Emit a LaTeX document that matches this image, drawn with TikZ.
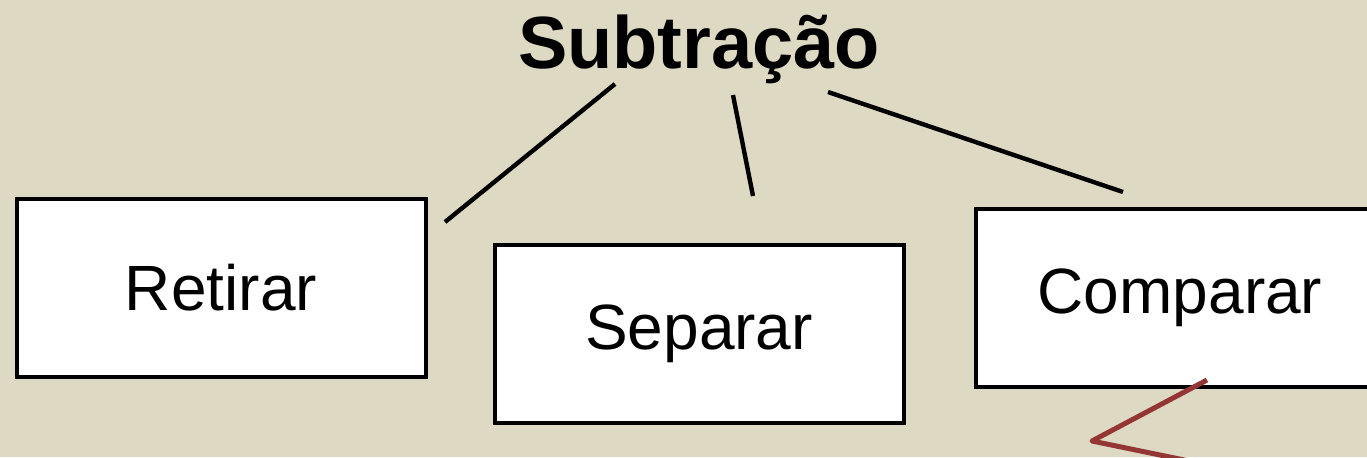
\documentclass[tikz,border=0pt]{standalone}
\usepackage{fontspec}
\setmainfont{Liberation Sans}
\definecolor{fundo}{RGB}{221,217,195}
\definecolor{marca}{RGB}{148,55,52}

\begin{document}
\begin{tikzpicture}[x=0.5pt,y=-0.5pt,
    caixa/.style={draw=black, fill=white, line width=2pt, minimum width=204.5pt,
      minimum height=89pt, font=\fontsize{32}{36}\selectfont},
    ramo/.style={line width=2.2pt}]
   \fill[fundo] (0,0) rectangle (1367,457);
   \useasboundingbox (0,0) rectangle (1367,457);

   \node[font=\bfseries\fontsize{37}{42}\selectfont]   (T)  at (699,49)  {Subtração} ; %
   \node[caixa]                   (R)      at (221,288)  {Retirar} ; %
   \node[caixa]                   (S)      at (699,334)  {Separar} ; %
   \node[caixa]                   (C)      at (1180,298) {Comparar} ; %

   \coordinate (t1) at (615,84) ;
   \coordinate (t2) at (733,95) ;
   \coordinate (t3) at (828,92) ;
   \coordinate (r1) at (445,222) ;
   \coordinate (s1) at (753,196) ;
   \coordinate (c1) at (1123,192) ;

  \draw[ramo] (t1) -- (r1) ;
  \draw[ramo] (t2) -- (s1) ;
  \draw[ramo] (t3) -- (c1) ;

  % traço vermelho
   \coordinate (m1) at (1207,380) ;
   \coordinate (m2) at (1092,441) ;
   \coordinate (m3) at (1194,462) ;
  \draw[marca, line width=2.5pt, line join=round] (m1) -- (m2) -- (m3) ;

\end{tikzpicture}
\end{document}
